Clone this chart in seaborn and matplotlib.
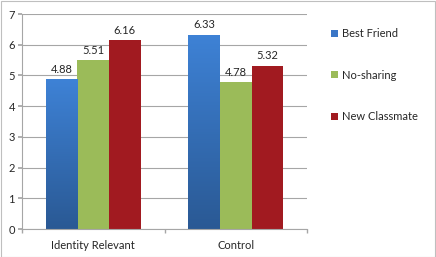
import matplotlib
matplotlib.use("Agg")
import matplotlib.pyplot as plt
from matplotlib.colors import LinearSegmentedColormap
import seaborn as sns
import pandas as pd
import numpy as np

categories = ["Identity Relevant", "Control"]
series = ["Best Friend", "No-sharing", "New Classmate"]
best_friend = [4.88, 6.33]
no_sharing = [5.51, 4.78]
new_classmate = [6.16, 5.32]
colors = ["#3A76C6", "#9BBB59", "#A11A20"]

rows = []
for s, vals in zip(series, [best_friend, no_sharing, new_classmate]):
    for c, v in zip(categories, vals):
        rows.append({"cat": c, "series": s, "value": v})
df = pd.DataFrame(rows)

sns.set_theme(style="white")
plt.rcParams['font.family'] = ['Lato', 'DejaVu Sans']

fig = plt.figure(figsize=(4.36, 2.57), dpi=100)
ax = fig.add_axes([22/436, 1 - 229/257, (307-22)/436, (229-14)/257])

sns.barplot(data=df, x="cat", y="value", hue="series", palette=colors,
            width=0.665, saturation=1, ax=ax, legend=True, errorbar=None,
            linewidth=0, edgecolor="none")

ax.set_ylim(0, 7)
ax.set_xlim(-0.5, 1.5)
ax.set_yticks(range(0, 8))
ax.yaxis.grid(True, color="#A6A6A6", linewidth=0.8)
ax.set_axisbelow(True)
ax.set_xlabel("")
ax.set_ylabel("")
for side in ["top", "right"]:
    ax.spines[side].set_visible(False)
for side in ["left", "bottom"]:
    ax.spines[side].set_color("#A6A6A6")
    ax.spines[side].set_linewidth(0.8)
ax.set_xticks([0, 1])
ax.set_xticklabels(categories)
ax.set_xticks([-0.5, 0.5, 1.5], minor=True)
ax.tick_params(axis="x", which="major", length=0, labelsize=8, pad=8)
ax.tick_params(axis="x", which="minor", length=3, color="#A6A6A6", direction="out", bottom=True)
ax.tick_params(axis="y", length=3, color="#A6A6A6", direction="out", left=True, labelsize=8, pad=2)

# gradient on the blue bars
blue_cmap = LinearSegmentedColormap.from_list("bl", ["#2A5994", "#3E82D6"])
grad = np.linspace(0, 1, 256).reshape(-1, 1)
for patch in ax.containers[0]:
    x0 = patch.get_x(); w = patch.get_width(); h = patch.get_height()
    im = ax.imshow(grad, cmap=blue_cmap, aspect="auto", origin="lower",
                   extent=(x0, x0 + w, 0, h), zorder=patch.get_zorder() + 0.1)
    im.set_clip_path(patch)
ax.set_xlim(-0.5, 1.5)
ax.set_ylim(0, 7)

for cont in ax.containers:
    ax.bar_label(cont, fmt="%.2f", fontsize=8, padding=3)

leg = ax.legend(loc="upper left", bbox_to_anchor=(321/436, 1 - 18/257), bbox_transform=fig.transFigure,
                frameon=False, fontsize=8, handlelength=0.6, handleheight=0.6,
                labelspacing=2.75, handletextpad=0.4)

fig.patches.append(plt.Rectangle((0.5/436, 0.5/257), 1 - 1.5/436, 1 - 1.5/257, transform=fig.transFigure,
                                 fill=False, edgecolor="#BFBFBF", linewidth=0.8))
fig.savefig("out.png", dpi=100)
